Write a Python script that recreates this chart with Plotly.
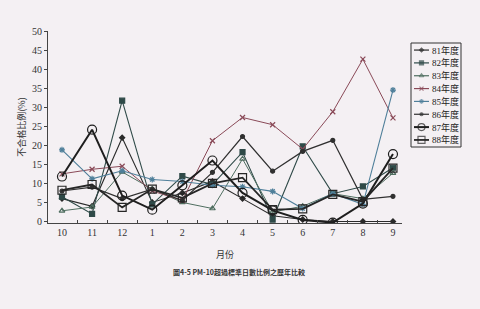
import plotly.graph_objects as go

months = ["10", "11", "12", "1", "2", "3", "4", "5", "6", "7", "8", "9"]
names = ["81年度", "82年度", "83年度", "84年度", "85年度", "86年度", "87年度", "88年度"]

y81 = [6, 4, 22, 5, 7.5, 10.5, 6, 1.5, 0.5, 0, 0, 0]
y82 = [6.5, 2, 31.7, 4.5, 11.9, 9.7, 18.2, 0.5, 19.7, 7.3, 9.2, 14.1]
y83 = [2.8, 3.8, 13, 8.5, 5, 3.4, 16.4, 2.5, 4, 7.3, 6, 12.7]
y84 = [12.5, 13.7, 14.5, 8, 5.5, 21.2, 27.3, 25.4, 19, 28.8, 42.6, 27.2]
y85 = [18.8, 11.2, 13.3, 11, 10.5, 9.5, 9.1, 7.9, 3.4, 7.3, 4.5, 34.5]
y86 = [8, 9, 6, 8.5, 5.5, 12.9, 22.3, 13.2, 18.4, 21.3, 5.8, 6.6]
y87 = [11.8, 24.1, 6.8, 3.1, 9.5, 16, 7.5, 2.9, 0.4, -0.3, 4.7, 17.7]
y88 = [8.2, 9.7, 3.7, 8.5, 6.2, 10, 11.5, 3.1, 3.3, 7.1, 5.2, 14]

series = [y81, y82, y83, y84, y85, y86, y87, y88]
colors = ["#2a2a2a", "#2f4a48", "#4f6e60", "#8a4a58", "#4f7f9a", "#303030", "#1e1e1e", "#262626"]
widths = [1.1, 1.1, 1.0, 1.0, 1.1, 1.2, 2.0, 1.8]
symbols = ["diamond", "square", "triangle-up-open", "x-thin-open", "asterisk-open", "circle", "circle-open", "square-open"]
msizes = [4, 5, 5, 5, 5, 4, 9, 8]
leg_msizes = [3, 4, 4, 4, 4, 3, 7, 7]

fig = go.Figure()
for nm, ys, c, w, s, ms in zip(names, series, colors, widths, symbols, msizes):
    fig.add_trace(go.Scatter(
        x=months, y=ys, name=nm, mode="lines+markers", showlegend=False,
        line=dict(color=c, width=w),
        marker=dict(symbol=s, size=ms, color=c, line=dict(color=c, width=1.2)),
        xaxis="x", yaxis="y",
    ))

# hand-built compact legend in an inset axis (legend box in its own 0..1 coordinates)
n = len(names)
step = 1.0 / (n + 0.1)
annots = []
for i, (nm, c, w, s, ms) in enumerate(zip(names, colors, widths, symbols, leg_msizes)):
    yy = 1 - step * (i + 0.55)
    fig.add_trace(go.Scatter(
        x=[0.06, 0.21, 0.36], y=[yy, yy, yy], mode="lines+markers", showlegend=False,
        line=dict(color=c, width=max(w, 1.2)),
        marker=dict(symbol=s, size=[0, ms, 0], color=c, line=dict(color=c, width=1.2)),
        xaxis="x2", yaxis="y2", hoverinfo="skip",
    ))
    annots.append(dict(
        text=nm, xref="x2", yref="y2", x=0.38, y=yy, xanchor="left", yanchor="middle",
        showarrow=False, font=dict(size=9, family="Liberation Serif, Noto Sans CJK TC", color="#222"),
    ))

bg = "#f4f0f3"
annots.append(dict(
    text="<b>圖4-5 PM-10超過標準日數比例之歷年比較</b>",
    xref="paper", yref="paper", x=0.442, y=-0.22, yanchor="top", showarrow=False,
    font=dict(size=7, family="Noto Sans CJK TC", color="#333"),
))

fig.update_layout(
    width=480, height=309,
    paper_bgcolor=bg, plot_bgcolor=bg,
    margin=dict(l=48, r=0, t=31, b=86),
    font=dict(family="Liberation Serif, Noto Sans CJK TC", color="#333", size=10),
    showlegend=False,
    xaxis=dict(
        domain=[0, 354 / 432],
        type="category", range=[-0.465, 11.3],
        showgrid=False, showline=True, linecolor="#444", linewidth=1,
        ticks="inside", ticklen=3, tickcolor="#444", tickson="boundaries",
        title=dict(text="月份", font=dict(size=9, family="Noto Sans CJK TC"), standoff=14),
        tickfont=dict(size=10),
    ),
    yaxis=dict(
        range=[-0.4, 50], tickvals=list(range(0, 55, 5)),
        showgrid=False, zeroline=False, showline=True, linecolor="#444", linewidth=1,
        ticks="outside", ticklen=3, tickcolor="#444",
        title=dict(text="不合格比例(%)", font=dict(size=9, family="Noto Sans CJK TC"), standoff=4),
        tickfont=dict(size=10),
    ),
    xaxis2=dict(domain=[363 / 432, 413 / 432], range=[0, 1], visible=False, fixedrange=True),
    yaxis2=dict(domain=[76 / 192, 180 / 192], range=[0, 1], visible=False, fixedrange=True),
    shapes=[dict(type="rect", xref="x2 domain", yref="y2 domain", x0=0, x1=1, y0=0, y1=1,
                 line=dict(color="#333", width=1), fillcolor="rgba(0,0,0,0)")],
    annotations=annots,
)

fig.write_html("out.html")
